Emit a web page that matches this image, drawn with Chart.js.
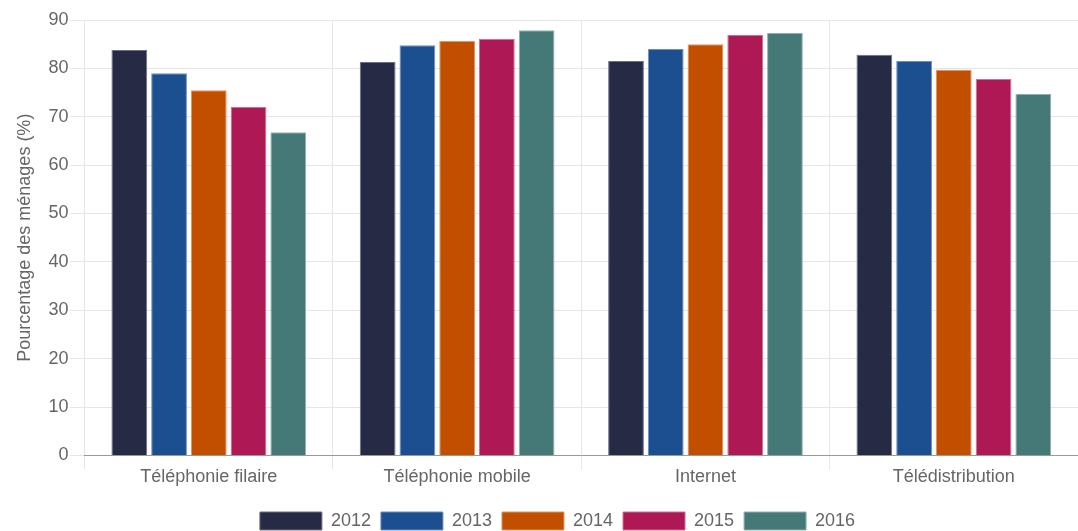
<!DOCTYPE html>
<html>
<head>
<meta charset="utf-8">
<script src="https://cdn.jsdelivr.net/npm/chart.js@4"></script>
<style>
  html, body { margin: 0; padding: 0; background: #fff; overflow: hidden; }
  #wrap { width: 1078px; height: 531px; }
</style>
</head>
<body>
<div id="wrap"><canvas id="chart"></canvas></div>
<script>
// categories and values
const categories = ['Téléphonie filaire', 'Téléphonie mobile', 'Internet', 'Télédistribution'];
const years = ['2012', '2013', '2014', '2015', '2016'];
const v2012 = [83.8, 81.3, 81.5, 82.8];
const v2013 = [79.0, 84.8, 84.0, 81.5];
const v2014 = [75.5, 85.7, 85.0, 79.7];
const v2015 = [72.0, 86.1, 86.9, 77.8];
const v2016 = [66.8, 87.9, 87.3, 74.7];
const yTicks = [0, 10, 20, 30, 40, 50, 60, 70, 80, 90];

const colors = ['#272a44', '#1b4f8f', '#c24f00', '#ad1855', '#457978'];
const borders = ['#6c6e84', '#6d8fbb', '#e0955f', '#d36c95', '#8fb1b0'];
const series = [v2012, v2013, v2014, v2015, v2016];

const datasets = years.map(function(y, i) {
  return {
    label: y,
    data: series[i],
    backgroundColor: colors[i],
    borderColor: borders[i],
    borderWidth: 1,
    categoryPercentage: 0.8,
    barPercentage: 0.9
  };
});

Chart.defaults.font.family = '"Liberation Sans", Arial, sans-serif';
Chart.defaults.color = '#666';

new Chart(document.getElementById('chart'), {
  type: 'bar',
  data: { labels: categories, datasets: datasets },
  options: {
    responsive: true,
    maintainAspectRatio: false,
    animation: false,
    layout: { padding: { top: 20, right: -23, left: 14, bottom: -9 } },
    plugins: {
      tooltip: { enabled: false },
      legend: {
        position: 'bottom',
        labels: {
          boxWidth: 62,
          boxHeight: 18,
          padding: 10,
          font: { size: 18 },
          color: '#666'
        }
      }
    },
    scales: {
      x: {
        grid: { offset: true, color: '#e6e6e6', tickLength: 14 },
        border: { color: '#999' },
        ticks: { font: { size: 18 }, color: '#666', padding: -3 },
        // extra room between the category labels and the legend
        afterFit: function(scale) { scale.height += 17; }
      },
      y: {
        min: 0,
        max: 90,
        afterBuildTicks: function(axis) {
          axis.ticks = yTicks.map(function(v) { return { value: v }; });
        },
        grid: { color: '#e6e6e6', tickLength: 15 },
        border: { display: false },
        ticks: { font: { size: 18 }, color: '#666', padding: 1 },
        title: {
          display: true,
          text: 'Pourcentage des ménages (%)',
          font: { size: 18 },
          color: '#666',
          padding: { top: 0, bottom: 12 }
        }
      }
    }
  }
});
</script>
</body>
</html>
